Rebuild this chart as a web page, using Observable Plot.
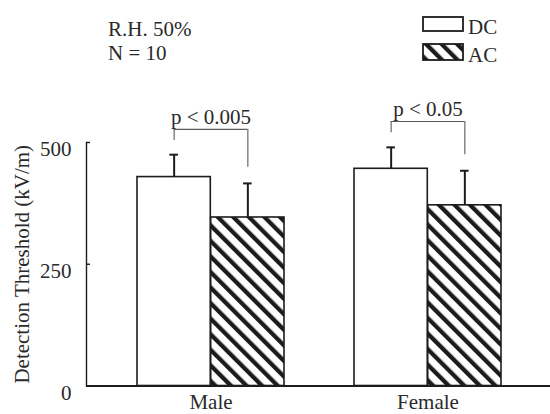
<!DOCTYPE html>
<html>
<head>
<meta charset="utf-8">
<script src="https://cdn.jsdelivr.net/npm/d3@7"></script>
<script src="https://cdn.jsdelivr.net/npm/@observablehq/plot@0.6"></script>
<style>
  html, body { margin: 0; padding: 0; background: #fff; overflow: hidden; }
  #chart { width: 550px; font-family: 'Liberation Serif', serif; }
  #chart svg { display: block; font-family: 'Liberation Serif', serif; }
</style>
</head>
<body>
<div id="chart"></div>
<script>
// ---- data ----
const sexes = ["Male", "Female"];
const seriesNames = ["DC", "AC"];
const dcMean = [429, 446];
const dcSD = [46, 44];
const acMean = [346, 371];
const acSD = [70, 71];
const pLabels = ["p < 0.005", "p < 0.05"];
const bracketTop = [527, 543];
const bracketLeftEnd = [504, 520];
const bracketRightEnd = [449, 475];
const yTicks = [0, 250, 500];
const yDomain = [0, 500];
const noteLines = ["R.H. 50%", "N = 10"];
const yLabel = "Detection Threshold (kV/m)";

// ---- styling ----
const ink = "#1c1c1c";
const textInk = "#2a2a2a";
const bracketInk = "#5a5a5a";
const font = "'Liberation Serif', serif";
const fs = 21;

const rows = sexes.map((s, i) => ({sex: s, dc: dcMean[i], dcTop: dcMean[i] + dcSD[i], ac: acMean[i], acTop: acMean[i] + acSD[i]}));
const brk = sexes.map((s, i) => ({sex: s, label: pLabels[i], top: bracketTop[i], leftEnd: bracketLeftEnd[i], rightEnd: bracketRightEnd[i]}));

const W = 550, H = 334, headerH = 80;
const mL = 86, mR = 0, mT = 62, mB = 28.5;
const xBand = {domain: sexes, paddingInner: 0.322, paddingOuter: 0.228, align: 0.515};
const bw = Plot.scale({x: {type: "band", ...xBand, range: [mL, W - mR]}}).bandwidth;
const half = bw / 2, q = bw / 4, cap = 4.5;

function addHatch(svgSel, id) {
  let defs = svgSel.select("defs");
  if (defs.empty()) defs = svgSel.insert("defs", ":first-child");
  const p = defs.append("pattern").attr("id", id).attr("patternUnits", "userSpaceOnUse")
    .attr("width", 11).attr("height", 11).attr("patternTransform", "rotate(-45)");
  p.append("rect").attr("width", 11).attr("height", 11).attr("fill", "white");
  p.append("rect").attr("width", 4.3).attr("height", 11).attr("fill", ink);
}

// ---- header (notes + legend) ----
const header = d3.select("#chart").append("svg").attr("width", W).attr("height", headerH)
  .style("font-family", font).style("font-size", fs + "px");
addHatch(header, "hatchLegend");
header.selectAll("text.note").data(noteLines).join("text").attr("class", "note")
  .attr("x", 108).attr("y", (d, i) => 36 + i * 24).attr("fill", textInk).text(d => d);
const leg = header.selectAll("g.leg").data(seriesNames).join("g").attr("class", "leg")
  .attr("transform", (d, i) => `translate(423,${i === 0 ? 17 : 44})`);
leg.append("rect").attr("width", 40).attr("height", (d, i) => i === 0 ? 14 : 16)
  .attr("fill", (d, i) => i === 0 ? "white" : "url(#hatchLegend)")
  .attr("stroke", ink).attr("stroke-width", 1.8);
leg.append("text").attr("x", 45).attr("y", (d, i) => i === 0 ? 17 : 18).attr("fill", textInk).text(d => d);

// ---- plot ----
const chart = Plot.plot({
  width: W,
  height: H,
  marginLeft: mL, marginRight: mR, marginTop: mT, marginBottom: mB,
  style: {fontFamily: font, fontSize: fs + "px", color: textInk, background: "white"},
  x: {type: "band", ...xBand},
  y: {domain: yDomain},
  marks: [
    Plot.barY(rows, {x: "sex", y1: 0, y2: "dc", insetRight: half, fill: "white", stroke: ink, strokeWidth: 1.6}),
    Plot.barY(rows, {x: "sex", y1: 0, y2: "ac", insetLeft: half, fill: "url(#hatch)", stroke: ink, strokeWidth: 1.6}),
    // error bars (upper only)
    Plot.ruleX(rows, {x: "sex", y1: "dc", y2: "dcTop", dx: -q, stroke: ink, strokeWidth: 2}),
    Plot.tickY(rows, {x: "sex", y: "dcTop", insetLeft: q - cap, insetRight: bw - q - cap, stroke: ink, strokeWidth: 2}),
    Plot.ruleX(rows, {x: "sex", y1: "ac", y2: "acTop", dx: q, stroke: ink, strokeWidth: 2}),
    Plot.tickY(rows, {x: "sex", y: "acTop", insetLeft: bw - q - cap, insetRight: q - cap, stroke: ink, strokeWidth: 2}),
    // significance brackets
    Plot.ruleX(brk, {x: "sex", y1: "leftEnd", y2: "top", dx: -q, stroke: bracketInk, strokeWidth: 1.1}),
    Plot.ruleX(brk, {x: "sex", y1: "rightEnd", y2: "top", dx: q, stroke: bracketInk, strokeWidth: 1.1}),
    Plot.tickY(brk, {x: "sex", y: "top", insetLeft: q, insetRight: q, stroke: bracketInk, strokeWidth: 1.1}),
    Plot.text(brk, {x: "sex", y: "top", text: "label", dy: -12, fontSize: fs, fill: textInk}),
    // axes
    Plot.frame({anchor: "left", stroke: ink, strokeWidth: 1.4}),
    Plot.ruleY([0], {stroke: ink, strokeWidth: 1.8}),
    Plot.axisY({ticks: yTicks, tickSize: 0, tickPadding: 15, dy: 7, label: null, fontSize: fs, fill: textInk}),
    Plot.axisY({ticks: yTicks.filter(t => t > 0), tickSize: -4, fill: "none", label: null, stroke: ink, strokeWidth: 1.4}),
    Plot.axisX({tickSize: 0, tickPadding: 8.5, label: null, fontSize: fs, fill: textInk}),
    Plot.text([yLabel], {frameAnchor: "left", textAnchor: "middle", rotate: -90, dx: -64, fontSize: fs, fill: textInk})
  ]
});
addHatch(d3.select(chart), "hatch");
document.getElementById("chart").appendChild(chart);
</script>
</body>
</html>
